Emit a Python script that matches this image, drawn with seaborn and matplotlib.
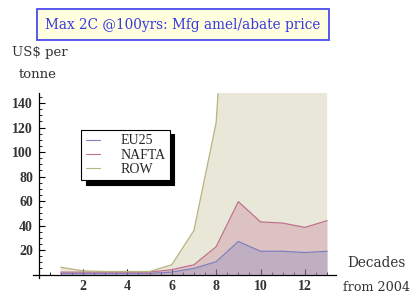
import numpy as np
import pandas as pd
import matplotlib
matplotlib.use('Agg')
import matplotlib.pyplot as plt
from matplotlib.lines import Line2D
from matplotlib.ticker import MultipleLocator
import seaborn as sns

# values
decades = [1, 2, 3, 4, 5, 6, 7, 8, 9, 10, 11, 12, 13]
eu25 = [1, 1, 1, 1, 1, 2, 5, 10.5, 27, 19, 19, 18, 19]
nafta = [2, 2, 2, 2, 2, 4, 8, 22.7, 59.5, 43, 42, 38.5, 44]
row = [6, 3, 2.5, 2.5, 2.5, 8, 36, 124, 400, 400, 400, 400, 400]

regions = ['EU25', 'NAFTA', 'ROW']
colors = {'EU25': '#8080c0', 'NAFTA': '#c07090', 'ROW': '#b8b480'}

df = pd.DataFrame({'Decade': decades * 3,
                   'Price': eu25 + nafta + row,
                   'Region': ['EU25'] * 13 + ['NAFTA'] * 13 + ['ROW'] * 13})

sns.set_style('white')
plt.rcParams['font.family'] = ['DejaVu Serif']

fig = plt.figure(figsize=(4.12, 2.96), dpi=100)
ax = fig.add_axes([0.080, 0.060, 0.7356, 0.625])

# fills to the axis, drawn back to front
for reg in ['ROW', 'NAFTA', 'EU25']:
    sub = df[df['Region'] == reg]
    ax.fill_between(sub['Decade'], 0, sub['Price'], color=colors[reg], alpha=0.3, lw=0)

sns.lineplot(data=df, x='Decade', y='Price', hue='Region', hue_order=regions,
             palette=colors, lw=0.9, ax=ax, legend=False)

ax.set_xlim(-0.25, 13.4)
ax.set_ylim(-3, 148)
ax.spines['left'].set_position(('data', 0))
ax.spines['bottom'].set_position(('data', 0))
ax.spines['right'].set_visible(False)
ax.spines['top'].set_visible(False)
for s in ['left', 'bottom']:
    ax.spines[s].set_color('black')
    ax.spines[s].set_linewidth(0.9)

ax.set_xticks([2, 4, 6, 8, 10, 12])
ax.set_yticks([20, 40, 60, 80, 100, 120, 140])
ax.xaxis.set_minor_locator(MultipleLocator(0.5))
ax.yaxis.set_minor_locator(MultipleLocator(5))
ax.tick_params(which='both', bottom=True, left=True, direction='in', color='black')
ax.tick_params(which='major', length=4, width=0.8, labelsize=10, pad=4)
ax.tick_params(which='minor', length=2, width=0.6)
for lab in ax.get_xticklabels() + ax.get_yticklabels():
    lab.set_fontfamily('Liberation Serif')
    lab.set_fontweight('bold')
    lab.set_color('#333333')
ax.set_xlabel('')
ax.set_ylabel('')

handles = [Line2D([], [], color=colors[r], lw=0.8) for r in regions]
leg = ax.legend(handles, regions, loc='upper left', bbox_to_anchor=(0.16, 0.80),
                borderaxespad=0, fancybox=False, edgecolor='black', framealpha=1,
                prop={'family': 'Liberation Serif', 'size': 10},
                handlelength=1.0, handletextpad=1.5, labelspacing=0.1,
                borderpad=0.3, shadow={'color': 'black', 'alpha': 1, 'ox': 3, 'oy': -3})
leg.get_frame().set_linewidth(0.8)

fig.text(0.444, 0.917, 'Max 2C @100yrs: Mfg amel/abate price', ha='center', va='center',
         fontsize=9.8, color='#3a3ae0',
         bbox=dict(boxstyle='square,pad=0.62', fc='#ffffe0', ec='#4a4af0', lw=1.3))
fig.text(0.029, 0.824, 'US$ per', ha='left', va='center', fontsize=9.5, color='#333333')
fig.text(0.046, 0.747, 'tonne', ha='left', va='center', fontsize=9.5, color='#333333')
fig.text(0.913, 0.112, 'Decades', ha='center', va='center', fontsize=9.8, color='#333333')
fig.text(0.913, 0.030, 'from 2004', ha='center', va='center', fontsize=9.2, color='#333333')

fig.savefig('out.png', dpi=100)
